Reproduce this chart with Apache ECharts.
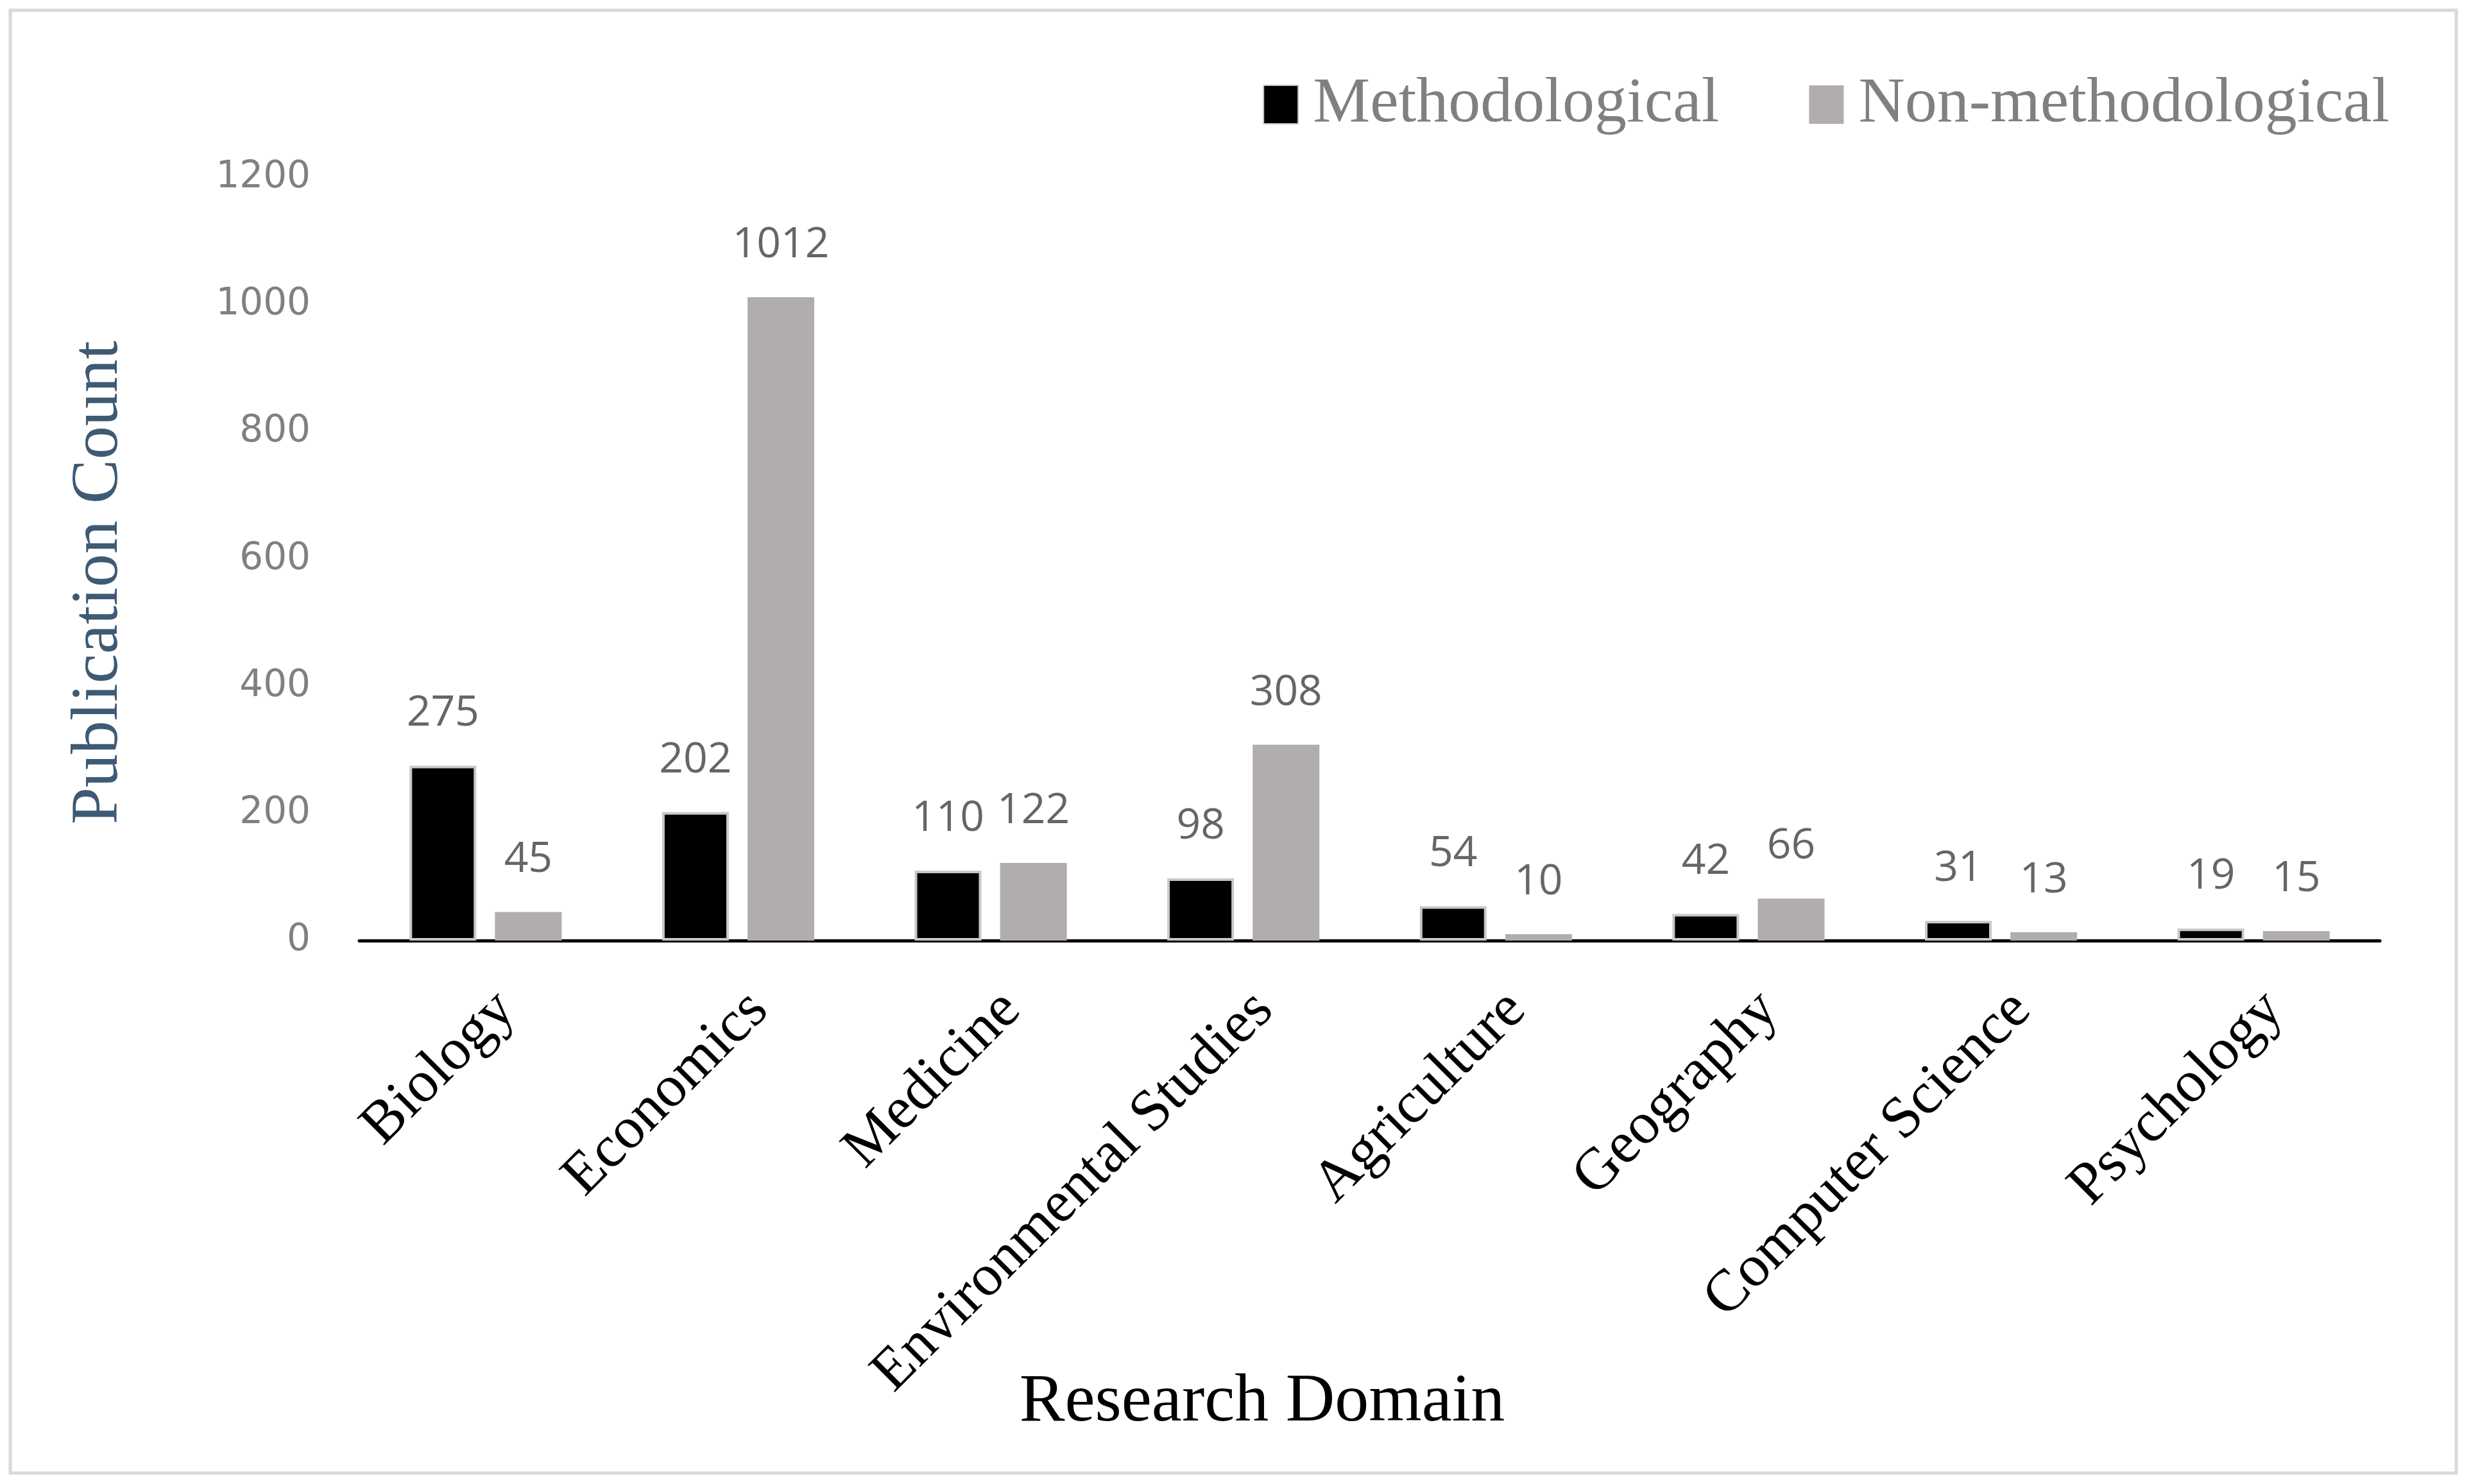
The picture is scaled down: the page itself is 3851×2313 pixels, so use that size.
<!DOCTYPE html>
<html>
<head>
<meta charset="utf-8">
<script src="https://cdn.jsdelivr.net/npm/echarts@6/dist/echarts.min.js"></script>
<style>
html,body{margin:0;padding:0;background:#fff;}
#chart{width:3851px;height:2313px;}
</style>
</head>
<body>
<div id="chart"></div>
<script>
const categories = ['Biology','Economics','Medicine','Environmental Studies','Agriculture','Geography','Computer Science','Psychology'];
const methodological = [275, 202, 110, 98, 54, 42, 31, 19];
const nonMethodological = [45, 1012, 122, 308, 10, 66, 13, 15];
const seriesNames = ['Methodological','Non-methodological'];
const yTicks = {min: 0, max: 1200, interval: 200};
const xTitle = 'Research Domain';
const yTitle = 'Publication Count';

const chart = echarts.init(document.getElementById('chart'), null, {renderer:'canvas'});
const labelStyle = {
  show: true, position: 'top', distance: 48,
  color: '#666666', fontFamily: 'Open Sans', fontSize: 66
};
chart.setOption({
  backgroundColor: '#ffffff',
  animation: false,
  graphic: [
    {
      type: 'rect', shape: {x: 16, y: 16, width: 3812, height: 2280},
      style: {fill: 'none', stroke: '#d9d9d9', lineWidth: 5}, silent: true, z: -1
    },
    {
      type: 'text', x: 1967, y: 2186,
      style: {text: xTitle, font: '106px "Liberation Serif"', fill: '#000', align: 'center', verticalAlign: 'middle'}
    },
    {
      type: 'text', x: 155, y: 908, rotation: Math.PI / 2,
      style: {text: yTitle, font: '104px "Liberation Serif"', fill: '#3e5a74', align: 'center', verticalAlign: 'middle'}
    }
  ],
  legend: {
    data: seriesNames,
    right: 122, top: 108,
    itemWidth: 54, itemHeight: 60, itemGap: 140,
    textStyle: {fontFamily: 'Liberation Serif', fontSize: 100, color: '#808080', padding: [0,0,0,18]},
    icon: 'rect'
  },
  grid: {left: 560, right: 142, top: 277, bottom: 847, containLabel: false},
  xAxis: {
    type: 'category', data: categories,
    axisLine: {lineStyle: {color: '#000', width: 5}},
    axisTick: {show: false},
    axisLabel: {rotate: 45, margin: 62, interval: 0, fontFamily: 'Liberation Serif', fontSize: 92, color: '#000', verticalAlign: 'top'}
  },
  yAxis: {
    type: 'value', min: yTicks.min, max: yTicks.max, interval: yTicks.interval,
    axisLine: {show: false}, axisTick: {show: false}, splitLine: {show: false},
    axisLabel: {margin: 76, fontFamily: 'DejaVu Sans', fontSize: 58, color: '#808080', formatter: v => String(v)}
  },
  series: [
    {
      name: seriesNames[0], type: 'bar', data: methodological,
      barWidth: 104, barGap: '28%',
      itemStyle: {color: '#000000', borderColor: '#c8c8c8', borderWidth: 4},
      label: labelStyle
    },
    {
      name: seriesNames[1], type: 'bar', data: nonMethodological,
      barWidth: 104, barGap: '28%',
      itemStyle: {color: '#b0adac'},
      label: labelStyle
    }
  ]
});
</script>
</body>
</html>
